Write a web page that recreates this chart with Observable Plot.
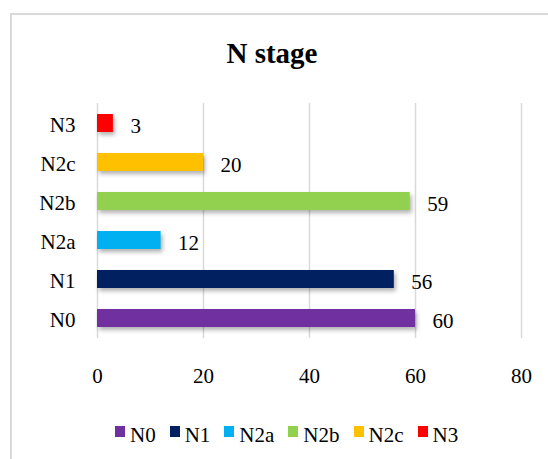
<!DOCTYPE html>
<html>
<head>
<meta charset="utf-8">
<style>
  html, body { margin: 0; padding: 0; background: #fff; }
  body { width: 548px; height: 459px; position: relative; overflow: hidden; font-family: 'Liberation Serif'; }
  #border { position: absolute; left: 10px; top: 13px; width: 600px; height: 500px; border-left: 2px solid #d9d9d9; border-top: 2px solid #d9d9d9; box-sizing: border-box; }
  #title { position: absolute; left: 10px; width: 524px; top: 39px; text-align: center; font-size: 29px; font-weight: bold; line-height: 1; color: #000; font-family: 'Liberation Serif'; }
  #chart { position: absolute; left: 0; top: 90px; }
  #legend { position: absolute; left: 115px; top: 425px; display: flex; align-items: flex-start; font-size: 21px; line-height: 1; color: #000; font-family: 'Liberation Serif'; }
  #legend .item { display: flex; align-items: flex-start; margin-right: 14px; }
  #legend .sw { width: 10px; height: 11px; margin-top: 1px; margin-right: 5px; }
  g[aria-label="bar"] rect { filter: drop-shadow(2px 3px 2px rgba(0,0,0,0.3)); }
</style>
<script src="https://cdn.jsdelivr.net/npm/d3@7"></script>
<script src="https://cdn.jsdelivr.net/npm/@observablehq/plot@0.6"></script>
</head>
<body>
<div id="border"></div>
<div id="title">N stage</div>
<div id="chart"></div>
<div id="legend"></div>
<script>
const categories = ["N0", "N1", "N2a", "N2b", "N2c", "N3"];
const values = [60, 56, 12, 59, 20, 3];
const colors = ["#7030a0", "#002060", "#00b0f0", "#92d050", "#ffc000", "#ff0000"];
const xTicks = [0, 20, 40, 60, 80];

const data = categories.map((c, i) => ({stage: c, value: values[i]}));
const FONT = "Liberation Serif";

const chart = Plot.plot({
  width: 548,
  height: 298,
  marginLeft: 97,
  marginRight: 27,
  marginTop: 13,
  marginBottom: 50,
  style: {fontFamily: FONT, fontSize: "21px", color: "#000", background: "transparent", overflow: "visible"},
  x: {domain: [0, 80], label: null},
  y: {domain: categories.slice().reverse(), paddingInner: 0.54, paddingOuter: 0.25, label: null},
  color: {domain: categories, range: colors},
  marks: [
    Plot.ruleX(xTicks, {stroke: "#d9d9d9", strokeWidth: 1.5}),
    Plot.barX(data, {x: "value", y: "stage", fill: "stage"}),
    Plot.text(data, {x: "value", y: "stage", text: d => String(d.value), textAnchor: "start", dx: 17, dy: 2.5, fill: "#000", fontFamily: FONT, fontSize: 21}),
    Plot.axisX({ticks: xTicks, tickSize: 0, tickPadding: 30, label: null, fontFamily: FONT, fontSize: 21}),
    Plot.axisY({tickSize: 0, tickPadding: 22, dy: 2, label: null, fontFamily: FONT, fontSize: 21})
  ]
});
document.getElementById("chart").appendChild(chart);

const legend = d3.select("#legend");
categories.forEach((c, i) => {
  const item = legend.append("div").attr("class", "item");
  item.append("div").attr("class", "sw").style("background", colors[i]);
  item.append("span").text(c);
});
</script>
</body>
</html>
